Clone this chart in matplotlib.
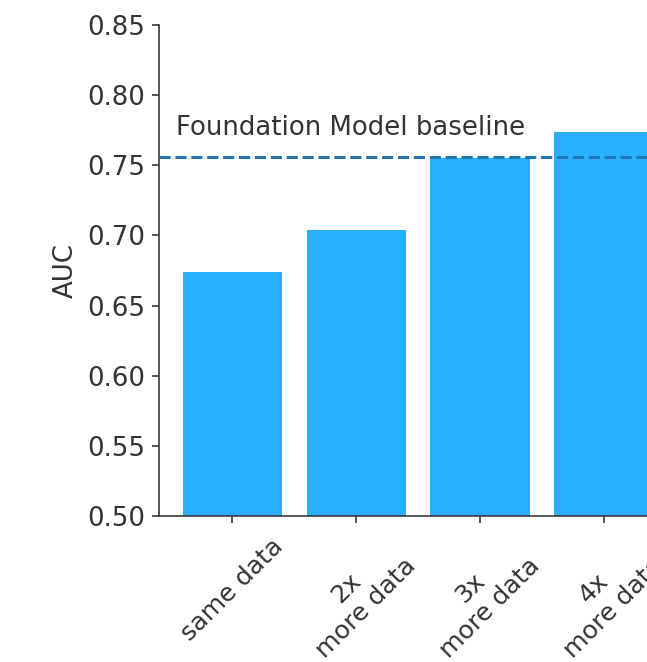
import matplotlib
matplotlib.use("Agg")
import matplotlib.pyplot as plt

categories = ["same data", "2x\nmore data", "3x\nmore data", "4x\nmore data"]
auc_values = [0.674, 0.704, 0.755, 0.774]
baseline_value = 0.756
baseline_label = "Foundation Model baseline"
y_ticks = [0.50, 0.55, 0.60, 0.65, 0.70, 0.75, 0.80, 0.85]

txt = "#333333"
plt.rcParams.update({
    "font.family": "DejaVu Sans",
    "font.size": 13,
    "text.color": txt,
    "axes.labelcolor": txt,
    "xtick.color": txt,
    "ytick.color": txt,
    "axes.edgecolor": txt,
})

dpi = 144
fig = plt.figure(figsize=(647 / dpi, 662 / dpi), dpi=dpi)
ax = fig.add_axes([0.2457, 0.2205, 0.801, 0.7417])

x = list(range(len(categories)))
ax.bar(x, auc_values, width=0.8, color="#2aaefe", zorder=2)
ax.axhline(baseline_value, color="#1f77b4", linestyle="--", linewidth=1.5, zorder=3)
ax.text(-0.45, baseline_value + 0.011, baseline_label, fontsize=13, color=txt,
        ha="left", va="bottom")

ax.set_xlim(-0.59, 3.59)
ax.set_ylim(0.50, 0.85)
ax.set_yticks(y_ticks)
ax.set_yticklabels([f"{v:.2f}" for v in y_ticks])
ax.set_xticks(x)
ax.set_xticklabels(categories, rotation=45, ha="center", fontsize=12.6)
ax.tick_params(axis="x", pad=5.5)
ax.set_ylabel("AUC")
ax.spines["top"].set_visible(False)
ax.spines["right"].set_visible(False)

fig.savefig("out.png", dpi=dpi)
